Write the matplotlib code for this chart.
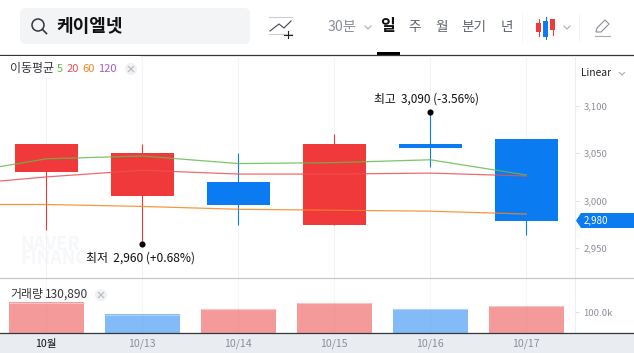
import matplotlib
matplotlib.use("Agg")
import matplotlib.pyplot as plt
from matplotlib.patches import Circle, FancyBboxPatch, Polygon, Rectangle

plt.rcParams['font.family'] = ['Noto Sans CJK KR', 'DejaVu Sans']

# Chart data
dates = ["10월", "10/13", "10/14", "10/15", "10/16", "10/17"]
opens = [3030, 3005, 3020, 2975, 3060, 3065]
closes = [3060, 3050, 2995, 3060, 3055, 2979]
highs = [3060, 3060, 3050, 3070, 3093, 3065]
lows = [2969, 2955, 2975, 2975, 3035, 2964]
volumes = [149, 90, 116, 145, 116, 131]

# moving averages, first point is the day before the visible window
ma_days = [-1, 0, 1, 2, 3, 4, 5]
ma5 = [3027, 3044, 3047, 3039, 3040, 3043, 3027]
ma20 = [3016, 3025, 3032, 3028, 3028, 3029, 3026]
ma60 = [2996, 2996, 2994, 2991, 2990, 2989, 2986]

price_ticks = [2950, 3000, 3050, 3100]
price_tick_labels = ["2,950", "3,000", "3,050", "3,100"]

RED = "#f0393b"
BLUE = "#0b7bf2"
GRID = "#f1f3f7"
GRAY = "#8b8f99"
DARK = "#5f646e"
W, H = 634, 353

fig = plt.figure(figsize=(W / 100, H / 100), dpi=100)


def px_axes(x0, y0, x1, y1, **kw):
    return fig.add_axes([x0 / W, (H - y1) / H, (x1 - x0) / W, (y1 - y0) / H], **kw)


# overlay in pixel coords for header and bottom band
ui = px_axes(0, 0, W, H)
ui.set_xlim(0, W)
ui.set_ylim(H, 0)
ui.axis("off")

ui.add_patch(Rectangle((0, 333), W, 20, color="#e9ecf1", lw=0))
ui.add_patch(FancyBboxPatch((20, 8), 230, 36, boxstyle="round,pad=0,rounding_size=6",
                            fc="#f3f4f6", ec="none", lw=0))
ui.add_patch(Circle((38, 25), 6, fc="none", ec="#33363b", lw=1.1))
ui.plot([42.5, 46.5], [29.5, 33.5], color="#33363b", lw=1.2)
ui.text(56, 26.5, "케이엘넷", fontsize=13, fontweight="bold", color="#111111", va="center")

# watermark sits under everything else
ui.text(20, 244, "NAVER", fontsize=13, fontweight="bold", color="#f6f7f9", va="center")
ui.text(20, 259, "FINANCE", fontsize=13, fontweight="bold", color="#f6f7f9", va="center")

# indicator icon
ui.plot([269, 292], [17, 17], color="#c9ccd2", lw=0.8)
ui.plot([269, 292], [34, 34], color="#c9ccd2", lw=0.8)
ui.plot([270, 279, 284, 291], [31, 24, 28, 21], color="#44474d", lw=0.8)
ui.plot([284, 292], [34.5, 34.5], color="#222222", lw=0.8)
ui.plot([288, 288], [30.5, 38], color="#222222", lw=0.8)

ui.text(328, 27.5, "30분", fontsize=10.2, color=GRAY, va="center")
ui.plot([365, 368, 371], [26, 29, 26], color="#a8acb3", lw=0.8)
ui.text(380.5, 26.5, "일", fontsize=11.5, fontweight="bold", color="#111111", va="center")
ui.text(408, 27, "주", fontsize=9.8, color=DARK, va="center", fontweight="medium")
ui.text(435, 27, "월", fontsize=9.8, color=DARK, va="center", fontweight="medium")
ui.text(461.5, 27, "분기", fontsize=9.8, color=DARK, va="center", fontweight="medium")
ui.text(501, 27, "년", fontsize=9.8, color=DARK, va="center", fontweight="medium")
ui.plot([521.5, 521.5], [14, 41], color="#f3f4f6", lw=0.7)
ui.plot([578.5, 578.5], [14, 41], color="#f3f4f6", lw=0.7)

# candle icon
ui.plot([538.5, 538.5], [19, 36], color=RED, lw=0.8)
ui.add_patch(Rectangle((536, 23), 5, 9, color=RED, lw=0))
ui.plot([545.5, 545.5], [17, 39], color=BLUE, lw=0.8)
ui.add_patch(Rectangle((543, 21), 5, 16, color=BLUE, lw=0))
ui.plot([552.5, 552.5], [19, 35], color=RED, lw=0.8)
ui.add_patch(Rectangle((550, 19), 5, 11, color=RED, lw=0))
ui.plot([564, 567, 570], [26, 29, 26], color="#a8acb3", lw=0.8)

# pencil icon
ui.plot([595, 610], [35.5, 35.5], color="#a8acb3", lw=0.8)
ui.add_patch(Polygon([[596, 32], [597, 28], [605, 20], [609, 24], [601, 32]],
                     fc="none", ec=GRAY, lw=0.8))

ui.plot([0, W], [55, 55], color="#34373c", lw=0.9)
ui.add_patch(Rectangle((377, 52), 23, 3, color="#000000", lw=0))

# price panel
ax = px_axes(0, 56, 574.5, 278.3)
ax.patch.set_alpha(0)
ax.set_xlim(-0.482, 5.502)
ax.set_ylim(2918.5, 3152)
x = list(range(len(dates)))
ax.vlines(x, 2918.5, 3152, color=GRID, lw=0.8, zorder=0)
for i in x:
    color = RED if closes[i] >= opens[i] else BLUE
    ax.vlines(i, lows[i], highs[i], color=color, lw=0.8, zorder=2)
    ax.bar(i, abs(closes[i] - opens[i]), bottom=min(opens[i], closes[i]),
           width=0.656, color=color, lw=0, zorder=2)
ax.plot(ma_days, ma5, color="#63bb4b", lw=0.9, alpha=0.85, zorder=3)
ax.plot(ma_days, ma20, color="#ee4f55", lw=0.9, alpha=0.85, zorder=3)
ax.plot(ma_days, ma60, color="#f5861f", lw=0.9, alpha=0.85, zorder=3)

ax.plot([4], [highs[4]], "o", color="black", ms=3.4, zorder=4)
ax.plot([1], [lows[1]], "o", color="black", ms=3.4, zorder=4)
ax.text(3.965, highs[4] + 13.5, "최고  3,090 (-3.56%)", fontsize=8.5, color="#111111",
        ha="center", va="center", zorder=5)
ax.text(0.98, lows[1] - 15.5, "최저  2,960 (+0.68%)", fontsize=8.6, color="#111111",
        ha="center", va="center", zorder=5)

ax.set_xticks([])
ax.yaxis.tick_right()
ax.set_yticks(price_ticks, price_tick_labels)
ax.tick_params(axis="y", length=3, width=0.8, color="#dfe2e7", labelcolor=GRAY,
               labelsize=6.8, pad=3.5)
for side in ["top", "left", "bottom"]:
    ax.spines[side].set_visible(False)
ax.spines["right"].set_color("#eceef2")

# volume panel
vax = px_axes(0, 278.3, 574.5, 333)
vax.patch.set_alpha(0)
vax.set_xlim(-0.482, 5.502)
vax.set_ylim(0, 265)
vol_colors = ["#f59a9a", "#82bbf7", "#f59a9a", "#f59a9a", "#82bbf7", "#f59a9a"]
vax.bar(x, volumes, width=0.785, color=vol_colors, lw=0, zorder=1)
for i in x:
    vax.hlines(volumes[i] - 2, i - 0.3925, i + 0.3925, lw=0.8, zorder=2,
               color="#f8c4c4" if vol_colors[i] == "#f59a9a" else "#add3fa")
vax.vlines(x, 0, 265, color="#8b8f99", alpha=0.08, lw=0.8, zorder=3)
vax.set_xticks(x, dates)
vax.get_xticklabels()[0].set_color("#111111")
for lab in vax.get_xticklabels()[1:]:
    lab.set_color(GRAY)
vax.tick_params(axis="x", length=0, labelsize=7.6, pad=4)
vax.yaxis.tick_right()
vax.set_yticks([100], ["100.0k"])
vax.tick_params(axis="y", length=3, width=0.8, color="#dfe2e7", labelcolor=GRAY,
                labelsize=6.8, pad=3.5)
for side in ["top", "left"]:
    vax.spines[side].set_visible(False)
vax.spines["right"].set_color("#eceef2")
vax.spines["bottom"].set_visible(False)

# top overlay for labels, divider and price tag
top = px_axes(0, 0, W, H)
top.set_xlim(0, W)
top.set_ylim(H, 0)
top.axis("off")
top.patch.set_alpha(0)

top.plot([0, W], [278.3, 278.3], color="#c8c9d0", lw=0.9)
top.plot([0, W], [333, 333], color="#34373c", lw=0.9)
top.add_patch(Rectangle((0, 56), 140, 20, color="white", lw=0, zorder=1))
top.text(10, 68.5, "이동평균", fontsize=8.6, color="#33363b", va="center", zorder=3)
top.text(56.5, 68.5, "5", fontsize=8, color="#63bb4b", va="center", zorder=3)
top.text(66.5, 68.5, "20", fontsize=8, color="#ee4f55", va="center", zorder=3)
top.text(82.5, 68.5, "60", fontsize=8, color="#f5861f", va="center", zorder=3)
top.text(98.5, 68.5, "120", fontsize=8, color="#a15bd0", va="center", zorder=3)
top.text(10, 294.5, "거래량", fontsize=8.6, color="#33363b", va="center", zorder=3)
top.text(45, 294.5, "130,890", fontsize=8.6, color="#33363b", va="center", zorder=3)
for cx, cy in [(131, 69), (101, 295)]:
    top.add_patch(Circle((cx, cy), 6, fc="#f0f1f3", ec="none", zorder=3))
    top.plot([cx - 2.5, cx + 2.5], [cy - 2.5, cy + 2.5], color="#b9bcc3", lw=0.9, zorder=4)
    top.plot([cx - 2.5, cx + 2.5], [cy + 2.5, cy - 2.5], color="#b9bcc3", lw=0.9, zorder=4)

top.text(581, 73, "Linear", fontsize=7.4, color="#222222", va="center")
top.plot([619.5, 622, 624.5], [72.5, 75, 72.5], color="#a8acb3", lw=0.8)

top.add_patch(Polygon([[576, 220.5], [581, 213], [634, 213], [634, 228], [581, 228]],
                      fc=BLUE, ec="none"))
top.text(584, 220.5, "2,980", fontsize=7, color="white", va="center")

fig.savefig("out.png", dpi=100)
